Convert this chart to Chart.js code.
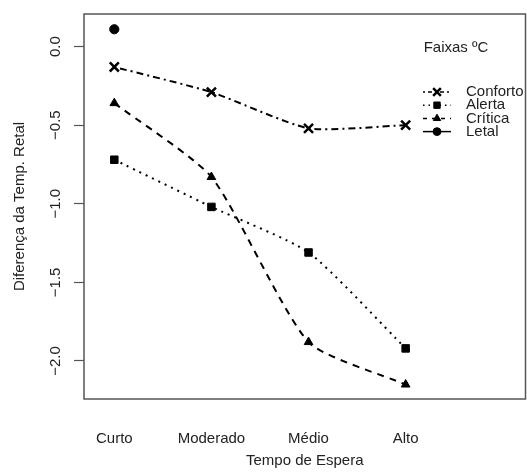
<!DOCTYPE html>
<html>
<head>
<meta charset="utf-8">
<script src="https://cdn.jsdelivr.net/npm/chart.js@4.4.0/dist/chart.umd.min.js"></script>
<style>
  body { margin: 0; background: #fff; overflow: hidden; }
</style>
</head>
<body>
<canvas id="grafico" width="527" height="472"></canvas>
<script>
// dados
const categorias = ['Curto', 'Moderado', 'Médio', 'Alto'];
const conforto = [-0.13, -0.29, -0.52, -0.50];
const alerta = [-0.72, -1.02, -1.31, -1.92];
const critica = [-0.36, -0.83, -1.88, -2.15];
const letal = [0.11, null, null, null];
const yTicks = [0, -0.5, -1, -1.5, -2];

const fonte = "'Liberation Sans', Arial, sans-serif";
Chart.defaults.font.family = fonte;
Chart.defaults.font.size = 15;
Chart.defaults.color = '#222';

function pontos(arr) {
    return arr.map((y, i) => ({ x: i + 1, y: y })).filter(p => p.y !== null);
}

// caixa em volta da area do grafico
const moldura = {
    id: 'moldura',
    afterDraw(chart) {
        const { ctx, chartArea: a } = chart;
        ctx.save();
        ctx.strokeStyle = '#555';
        ctx.lineWidth = 1.5;
        ctx.strokeRect(a.left, a.top, a.right - a.left, a.bottom - a.top);
        ctx.restore();
    }
};

// legenda estilo R (linha + simbolo)
const legenda = {
    id: 'legenda',
    afterDraw(chart) {
        const ctx = chart.ctx;
        ctx.save();
        ctx.font = '15px ' + fonte;
        ctx.fillStyle = '#222';
        ctx.textBaseline = 'middle';
        ctx.textAlign = 'center';
        ctx.fillText('Faixas ºC', 456, 48);
        ctx.textAlign = 'left';
        chart.data.datasets.forEach((ds, i) => {
            const y = 92 + i * 13.2;
            ctx.strokeStyle = '#000';
            ctx.lineWidth = 1.5;
            ctx.setLineDash(ds.legendDash);
            ctx.beginPath();
            ctx.moveTo(423, y);
            ctx.lineTo(451, y);
            ctx.stroke();
            ctx.setLineDash([]);
            ctx.fillStyle = '#000';
            ctx.lineWidth = ds.pointBorderWidth;
            Chart.helpers.drawPoint(ctx, {
                pointStyle: ds.pointStyle,
                radius: ds.pointRadius * 0.85,
                rotation: 0,
                borderWidth: ds.pointBorderWidth
            }, 437, y);
            ctx.fillStyle = '#222';
            ctx.fillText(ds.label, 466, y);
        });
        ctx.restore();
    }
};

new Chart(document.getElementById('grafico'), {
    type: 'line',
    data: {
        datasets: [{
            label: 'Conforto',
            data: pontos(conforto),
            borderColor: '#000',
            backgroundColor: '#000',
            borderWidth: 2,
            borderDash: [2, 4, 7, 4],
            legendDash: [2, 3, 4, 3],
            pointStyle: 'crossRot',
            pointRadius: 6.4,
            pointBorderWidth: 2.5,
            tension: 0.2
        }, {
            label: 'Alerta',
            data: pontos(alerta),
            borderColor: '#000',
            backgroundColor: '#000',
            borderWidth: 2,
            borderDash: [2, 5],
            legendDash: [1.5, 4],
            pointStyle: 'rect',
            pointRadius: 5.3,
            pointBorderWidth: 1,
            tension: 0.2
        }, {
            label: 'Crítica',
            data: pontos(critica),
            borderColor: '#000',
            backgroundColor: '#000',
            borderWidth: 2,
            borderDash: [7, 6],
            legendDash: [4, 5],
            pointStyle: 'triangle',
            pointRadius: 5,
            pointBorderWidth: 1,
            tension: 0.2
        }, {
            label: 'Letal',
            data: pontos(letal),
            borderColor: '#000',
            backgroundColor: '#000',
            borderWidth: 2,
            borderDash: [],
            legendDash: [],
            pointStyle: 'circle',
            pointRadius: 4.6,
            pointBorderWidth: 1,
            tension: 0.2
        }]
    },
    options: {
        responsive: false,
        animation: false,
        events: [],
        layout: {
            autoPadding: false,
            padding: { top: 14, right: 1.5, left: 0, bottom: 0 }
        },
        plugins: {
            legend: { display: false },
            tooltip: { enabled: false }
        },
        scales: {
            x: {
                type: 'linear',
                min: 0.688,
                max: 5.234,
                afterBuildTicks: s => { s.ticks = categorias.map((c, i) => ({ value: i + 1 })); },
                afterFit: s => { s.height = 73; },
                ticks: {
                    callback: v => categorias[v - 1],
                    padding: 23,
                    maxRotation: 0,
                    autoSkip: false
                },
                grid: { display: false },
                border: { display: false },
                title: {
                    display: true,
                    text: 'Tempo de Espera',
                    padding: { top: 0, bottom: 2 }
                }
            },
            y: {
                type: 'linear',
                min: -2.242,
                max: 0.207,
                afterBuildTicks: s => { s.ticks = yTicks.map(v => ({ value: v })); },
                afterFit: s => { s.width = 84; },
                ticks: {
                    callback: v => v === 0 ? '0.0' : '\u2212' + Math.abs(v).toFixed(1),
                    padding: 3.5,
                    minRotation: 90,
                    maxRotation: 90,
                    crossAlign: 'center',
                    autoSkip: false
                },
                grid: {
                    drawOnChartArea: false,
                    drawTicks: true,
                    tickLength: 10,
                    tickColor: '#555',
                    tickWidth: 1.2
                },
                border: { display: false },
                title: {
                    display: true,
                    text: 'Diferença da Temp. Retal',
                    padding: { top: 11, bottom: 0 }
                }
            }
        }
    },
    plugins: [moldura, legenda]
});
</script>
</body>
</html>
